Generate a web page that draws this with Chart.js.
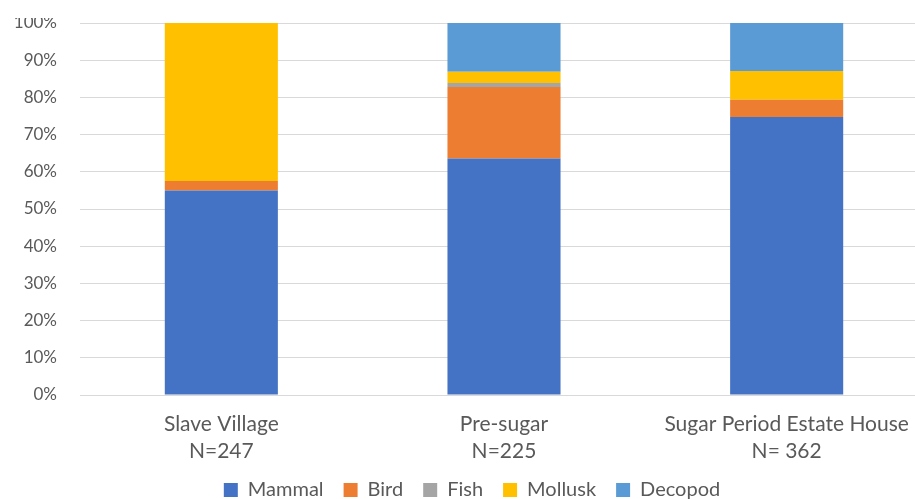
<!DOCTYPE html>
<html>
<head>
<meta charset="utf-8">
<script src="https://cdn.jsdelivr.net/npm/chart.js@4.4.1/dist/chart.umd.min.js"></script>
<style>
  html, body { margin: 0; padding: 0; background: #fff; overflow: hidden; width: 915px; height: 499px; }
  #wrap { position: absolute; left: 0; top: 0; width: 948px; height: 510px; }
  #cover { position: absolute; left: 0; top: 0; width: 915px; height: 18px; background: #fff; }
</style>
</head>
<body>
<div id="wrap"><canvas id="c"></canvas></div>
<div id="cover"></div>
<script>
const categories = [["Slave Village", "N=247"], ["Pre-sugar", "N=225"], ["Sugar Period Estate House", "N= 362"]];
const seriesNames = ["Mammal", "Bird", "Fish", "Mollusk", "Decopod"];
const mammal  = [55.0, 63.6, 74.7];
const bird    = [2.5, 19.2, 4.7];
const fish    = [0, 1.1, 0];
const mollusk = [42.5, 3.0, 7.7];
const decopod = [0, 13.1, 12.9];
const colors = ["#4472C4", "#ED7D31", "#A5A5A5", "#FFC000", "#5B9BD5"];
const yTicks = [0, 10, 20, 30, 40, 50, 60, 70, 80, 90, 100];

const seriesValues = [mammal, bird, fish, mollusk, decopod];
const FONT = "Lato, 'Open Sans', sans-serif";

const shiftLegend = {
  id: 'shiftLegend',
  afterLayout(chart) {
    const l = chart.legend;
    if (l) { l.left += 8; l.right += 8; }
  }
};

new Chart(document.getElementById('c'), {
  type: 'bar',
  data: {
    labels: categories,
    datasets: seriesNames.map((n, i) => ({
      label: n,
      data: seriesValues[i],
      backgroundColor: colors[i],
      borderWidth: 0,
      barPercentage: 0.4,
      categoryPercentage: 1.0
    }))
  },
  plugins: [shiftLegend],
  options: {
    responsive: true,
    maintainAspectRatio: false,
    animation: false,
    layout: { padding: { top: 23, right: 20, left: 0, bottom: 0 } },
    plugins: {
      tooltip: { enabled: false },
      legend: {
        position: 'bottom',
        labels: {
          boxWidth: 14,
          boxHeight: 14,
          padding: 20,
          color: '#595959',
          font: { family: FONT, size: 20 }
        }
      }
    },
    scales: {
      x: {
        stacked: true,
        afterFit: (s) => { s.height = 65; },
        grid: { display: false, drawTicks: false },
        border: { display: false },
        ticks: {
          color: '#595959',
          padding: 16,
          maxRotation: 0,
          autoSkip: false,
          font: { family: FONT, size: 21, lineHeight: 27 / 21 }
        }
      },
      y: {
        stacked: true,
        min: 0,
        max: 100,
        afterFit: (s) => { s.width = 80; },
        afterBuildTicks: (s) => { s.ticks = yTicks.map(v => ({ value: v })); },
        grid: { color: '#D9D9D9', lineWidth: 1, drawTicks: true, tickLength: 23, tickColor: 'rgba(0,0,0,0)' },
        border: { display: false },
        ticks: {
          color: '#595959',
          padding: 0,
          font: { family: FONT, size: 17 },
          callback: (v) => v + '%'
        }
      }
    }
  }
});
</script>
</body>
</html>
